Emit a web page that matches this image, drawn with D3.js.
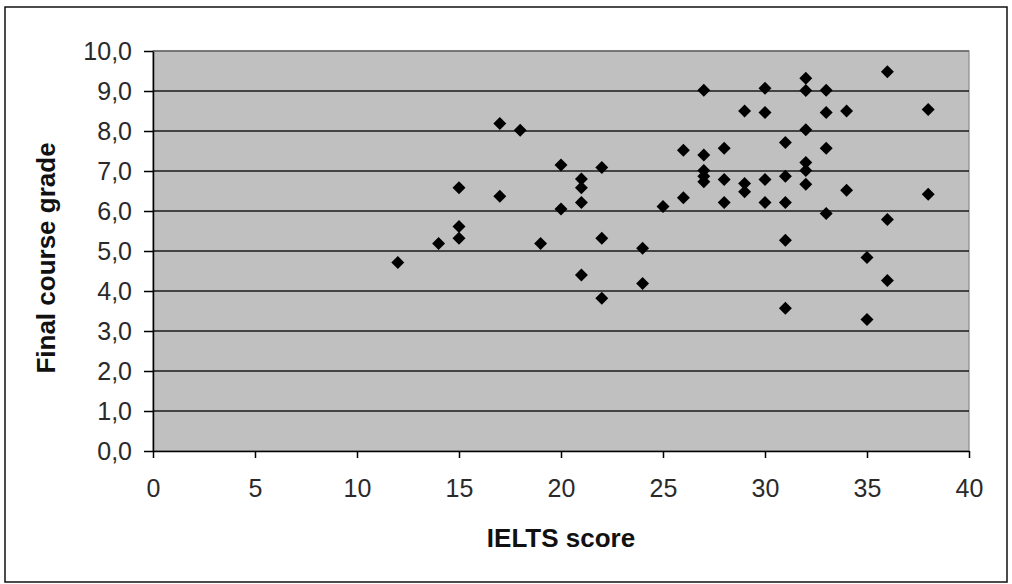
<!DOCTYPE html>
<html>
<head>
<meta charset="utf-8">
<script src="https://cdn.jsdelivr.net/npm/d3@7"></script>
<style>
    body { margin: 0; background: #fff; }
    svg { display: block; }
    .axis text { font-family: "Liberation Sans", Arial, sans-serif; font-size: 25px; fill: #2a2a2a; }
    .axis path, .axis line { stroke: #000; stroke-width: 1.5; }
    .title { font-family: "Liberation Sans", Arial, sans-serif; font-size: 26px; font-weight: bold; fill: #111; }
</style>
</head>
<body>
<script>
// IELTS score (x) and final course grade (y)
var ieltsScores = [17, 18, 20, 22, 21, 21, 21, 15, 17, 20, 25, 15, 15, 14, 19, 22, 24, 12, 21, 24, 22,
    36, 27, 30, 32, 32, 33, 29, 30, 33, 34, 38, 32, 31, 26, 28, 33, 27, 32, 32, 27,
    27, 27, 28, 29, 29, 30, 31, 32, 34, 38, 26, 28, 30, 31, 33, 36, 31, 35, 36, 31, 35];
var finalGrades = [8.19, 8.02, 7.15, 7.09, 6.80, 6.58, 6.21, 6.58, 6.37, 6.05, 6.11, 5.61, 5.32, 5.19, 5.19, 5.32, 5.07, 4.71, 4.40, 4.19, 3.82,
    9.48, 9.02, 9.07, 9.32, 9.01, 9.02, 8.50, 8.46, 8.46, 8.50, 8.54, 8.03, 7.71, 7.52, 7.57, 7.57, 7.40, 7.21, 7.01, 7.01,
    6.87, 6.73, 6.79, 6.69, 6.48, 6.79, 6.87, 6.67, 6.52, 6.42, 6.33, 6.21, 6.21, 6.21, 5.94, 5.79, 5.27, 4.84, 4.26, 3.57, 3.29];
var xTicks = [0, 5, 10, 15, 20, 25, 30, 35, 40];
var yTicks = [0, 1, 2, 3, 4, 5, 6, 7, 8, 9, 10];
var xTitle = "IELTS score";
var yTitle = "Final course grade";

var data = ieltsScores.map(function (d, i) {
    return { score: d, grade: finalGrades[i] };
});

var totalWidth = 1012, totalHeight = 584;
var margin = { top: 51, right: 43, bottom: 133, left: 153 };
var width = totalWidth - margin.left - margin.right;
var height = totalHeight - margin.top - margin.bottom;

var svg = d3.select("body").append("svg")
    .attr("width", totalWidth)
    .attr("height", totalHeight);

// outer chart border
svg.append("rect")
    .attr("x", 5).attr("y", 7)
    .attr("width", 1002).attr("height", 575)
    .attr("fill", "#fff")
    .attr("stroke", "#111")
    .attr("stroke-width", 1.5);

var g = svg.append("g")
    .attr("transform", "translate(" + margin.left + "," + margin.top + ")");

var x = d3.scaleLinear().domain([0, 40]).range([0, width]);
var y = d3.scaleLinear().domain([0, 10]).range([height, 0]);

// plot area
g.append("rect")
    .attr("width", width)
    .attr("height", height)
    .attr("fill", "#c0c0c0")
    .attr("stroke", "#8a8a8a")
    .attr("stroke-width", 1.2);

// gridlines
g.selectAll(".grid")
    .data(yTicks.filter(function (d) { return d > 0; }))
    .enter().append("line")
    .attr("class", "grid")
    .attr("x1", 0)
    .attr("x2", width)
    .attr("y1", function (d) { return y(d); })
    .attr("y2", function (d) { return y(d); })
    .attr("stroke", function (d) { return d === 10 ? "#666" : "#1a1a1a"; })
    .attr("stroke-width", 1.6);

var commaFormat = function (d) { return d3.format(".1f")(d).replace(".", ","); };

g.append("g")
    .attr("class", "x axis")
    .attr("transform", "translate(0," + height + ")")
    .call(d3.axisBottom(x).tickValues(xTicks).tickSize(7).tickSizeOuter(0).tickPadding(21));

g.append("g")
    .attr("class", "y axis")
    .call(d3.axisLeft(y).tickValues(yTicks).tickFormat(commaFormat).tickSize(9).tickSizeOuter(0).tickPadding(12));

// diamonds
var diamond = d3.symbol().type(d3.symbolSquare).size(84);
g.selectAll(".dot")
    .data(data)
    .enter().append("path")
    .attr("class", "dot")
    .attr("d", diamond)
    .attr("transform", function (d) {
        return "translate(" + x(d.score) + "," + y(d.grade) + ") rotate(45)";
    })
    .attr("fill", "#000");

// axis titles
g.append("text")
    .attr("class", "title")
    .attr("x", width / 2)
    .attr("y", height + 96)
    .attr("text-anchor", "middle")
    .text(xTitle);

g.append("text")
    .attr("class", "title")
    .attr("transform", "rotate(-90)")
    .attr("x", -(258 - margin.top))
    .attr("y", -(margin.left - 55))
    .attr("text-anchor", "middle")
    .text(yTitle);
</script>
</body>
</html>
